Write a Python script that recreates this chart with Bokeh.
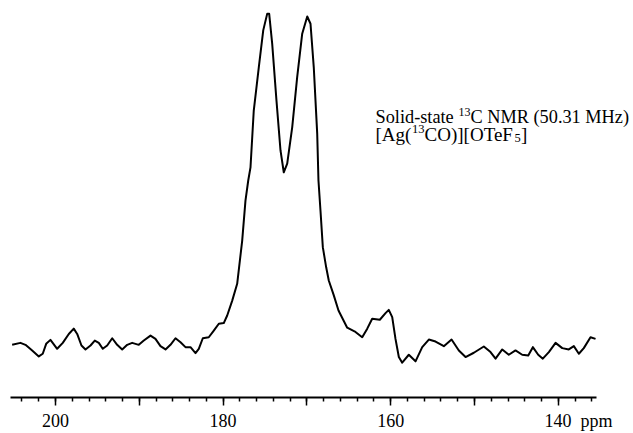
from bokeh.plotting import figure
from bokeh.models import Range1d, FixedTicker, Label
from bokeh.embed import file_html
from bokeh.resources import INLINE

# chemical shift (ppm) and relative intensity
ppm = [205.17, 204.18, 203.58, 202.78, 201.99, 201.52, 201.11, 200.60, 199.80, 199.13,
       198.41, 197.82, 197.41, 196.90, 196.42, 195.82, 195.31, 194.83, 194.36, 193.83,
       193.23, 192.64, 192.04, 191.44, 190.85, 190.06, 189.46, 188.66, 188.07, 187.47,
       186.87, 186.28, 185.68, 185.08, 184.49, 183.89, 183.29, 182.90, 182.42, 181.71,
       181.11, 180.51, 179.92, 179.51, 178.91, 178.32, 177.72, 177.33, 177.00, 176.73,
       176.34, 175.74, 175.21, 174.74, 174.50, 174.14, 173.63, 173.15, 172.76, 172.35,
       171.75, 171.16, 170.56, 169.96, 169.57, 169.18, 168.77, 168.62, 168.38, 168.10,
       167.70, 167.39, 166.79, 166.23, 165.19, 164.32, 163.40, 162.80, 162.21, 161.30,
       160.62, 160.23, 159.82, 159.43, 159.03, 158.63, 157.84, 157.04, 156.24, 155.45,
       154.65, 153.66, 152.74, 151.87, 151.07, 150.08, 148.89, 148.09, 147.49, 146.69,
       145.91, 145.11, 144.31, 143.59, 143.04, 142.40, 141.85, 141.13, 140.33, 139.53,
       138.75, 138.15, 137.55, 136.96, 136.16, 135.56]
intensity = [0.2, 0.8, 0.2, -1.5, -3.3, -2.5, 0.5, 1.7, -1.0, 0.8,
             3.5, 5.1, 3.5, 0.0, -1.2, 0.0, 1.5, 0.8, -1.0, 0.0,
             2.2, 0.2, -1.2, 0.2, 0.8, 0.2, 1.5, 3.0, 2.0, -0.2,
             -1.2, 0.2, 2.2, 1.0, -0.5, -0.5, -2.3, -1.0, 2.2, 2.5,
             4.5, 6.6, 6.8, 9.1, 13.6, 18.7, 31.8, 43.9, 50.0, 54.0,
             71.2, 84.3, 95.5, 100.5, 100.5, 91.4, 74.2, 59.1, 52.5, 55.1,
             66.2, 81.3, 94.5, 99.7, 97.5, 84.3, 64.2, 50.0, 40.9, 29.8,
             23.7, 19.7, 15.2, 10.6, 5.4, 4.3, 2.5, 5.1, 8.1, 7.8,
             9.8, 10.8, 8.6, 2.0, -3.5, -5.2, -2.8, -4.8, -0.5, 1.8,
             1.2, -0.2, 1.8, -1.5, -3.5, -2.2, -0.3, -2.0, -4.0, -1.2,
             -2.8, -1.5, -2.8, -3.0, -0.5, -2.8, -4.0, -2.0, 0.8, -0.8,
             -1.2, -0.2, -2.5, -0.8, 2.5, 2.0]

major_ticks = [140, 150, 160, 170, 180, 190, 200]
minor_ticks = list(range(136, 206, 2))
NB = "\u00a0"
tick_labels = {140: NB * 9 + "140" + NB * 2 + "ppm", 150: "", 160: "160", 170: "",
               180: "180", 190: "", 200: "200"}
# annotation pieces: (text, x offset px, raised/lowered px, size px)
line1 = [("Solid-state", 0, 0, 18.3), ("13", 83, 5, 12), ("C NMR (50.31 MHz)", 95, 0, 18.3)]
line2 = [("[Ag(", 0, 0, 19), ("13", 36.5, 5, 12.5), ("CO)][OTeF", 49, 0, 19),
         ("5", 139, -4, 12.5), ("]", 145.5, 0, 19)]

FONT = "Liberation Serif"
FH = 397
Y0, Y1 = -15.76, 104.55

p = figure(frame_width=633, frame_height=FH, output_backend="svg", toolbar_location=None,
           x_range=Range1d(206.56, 131.03), y_range=Range1d(Y0, Y1),
           min_border_left=0, min_border_right=0, min_border_top=0, min_border_bottom=36)
p.outline_line_color = None
p.grid.visible = False
p.yaxis.visible = False
p.background_fill_color = "white"
p.border_fill_color = "white"

ax = p.xaxis[0]
ax.ticker = FixedTicker(ticks=major_ticks, minor_ticks=minor_ticks)
ax.bounds = (135.44, 205.37)
ax.major_label_overrides = {k: v for k, v in tick_labels.items()}
ax.axis_line_width = 2.2
ax.axis_line_color = "black"
ax.major_tick_in = 0
ax.major_tick_out = 8
ax.minor_tick_in = 0
ax.minor_tick_out = 4
ax.major_tick_line_width = 1.5
ax.minor_tick_line_width = 1.5
ax.major_label_standoff = 5
ax.major_label_text_font = FONT
ax.major_label_text_font_size = "18px"
ax.major_label_text_color = "black"

p.line(ppm, intensity, line_color="black", line_width=2.0, line_join="round")

X_TXT = 161.81  # left edge of the annotation block
for (txt, dx, dy, fs) in line1:
    p.add_layout(Label(x=X_TXT, y=69.39, x_offset=dx, y_offset=dy, text=txt,
                       text_font=FONT, text_font_size=f"{fs}px", text_baseline="alphabetic",
                       text_color="black"))
for (txt, dx, dy, fs) in line2:
    p.add_layout(Label(x=X_TXT, y=64.0, x_offset=dx, y_offset=dy, text=txt,
                       text_font=FONT, text_font_size=f"{fs}px", text_baseline="alphabetic",
                       text_color="black"))

open("out.html", "w").write(file_html(p, INLINE))
